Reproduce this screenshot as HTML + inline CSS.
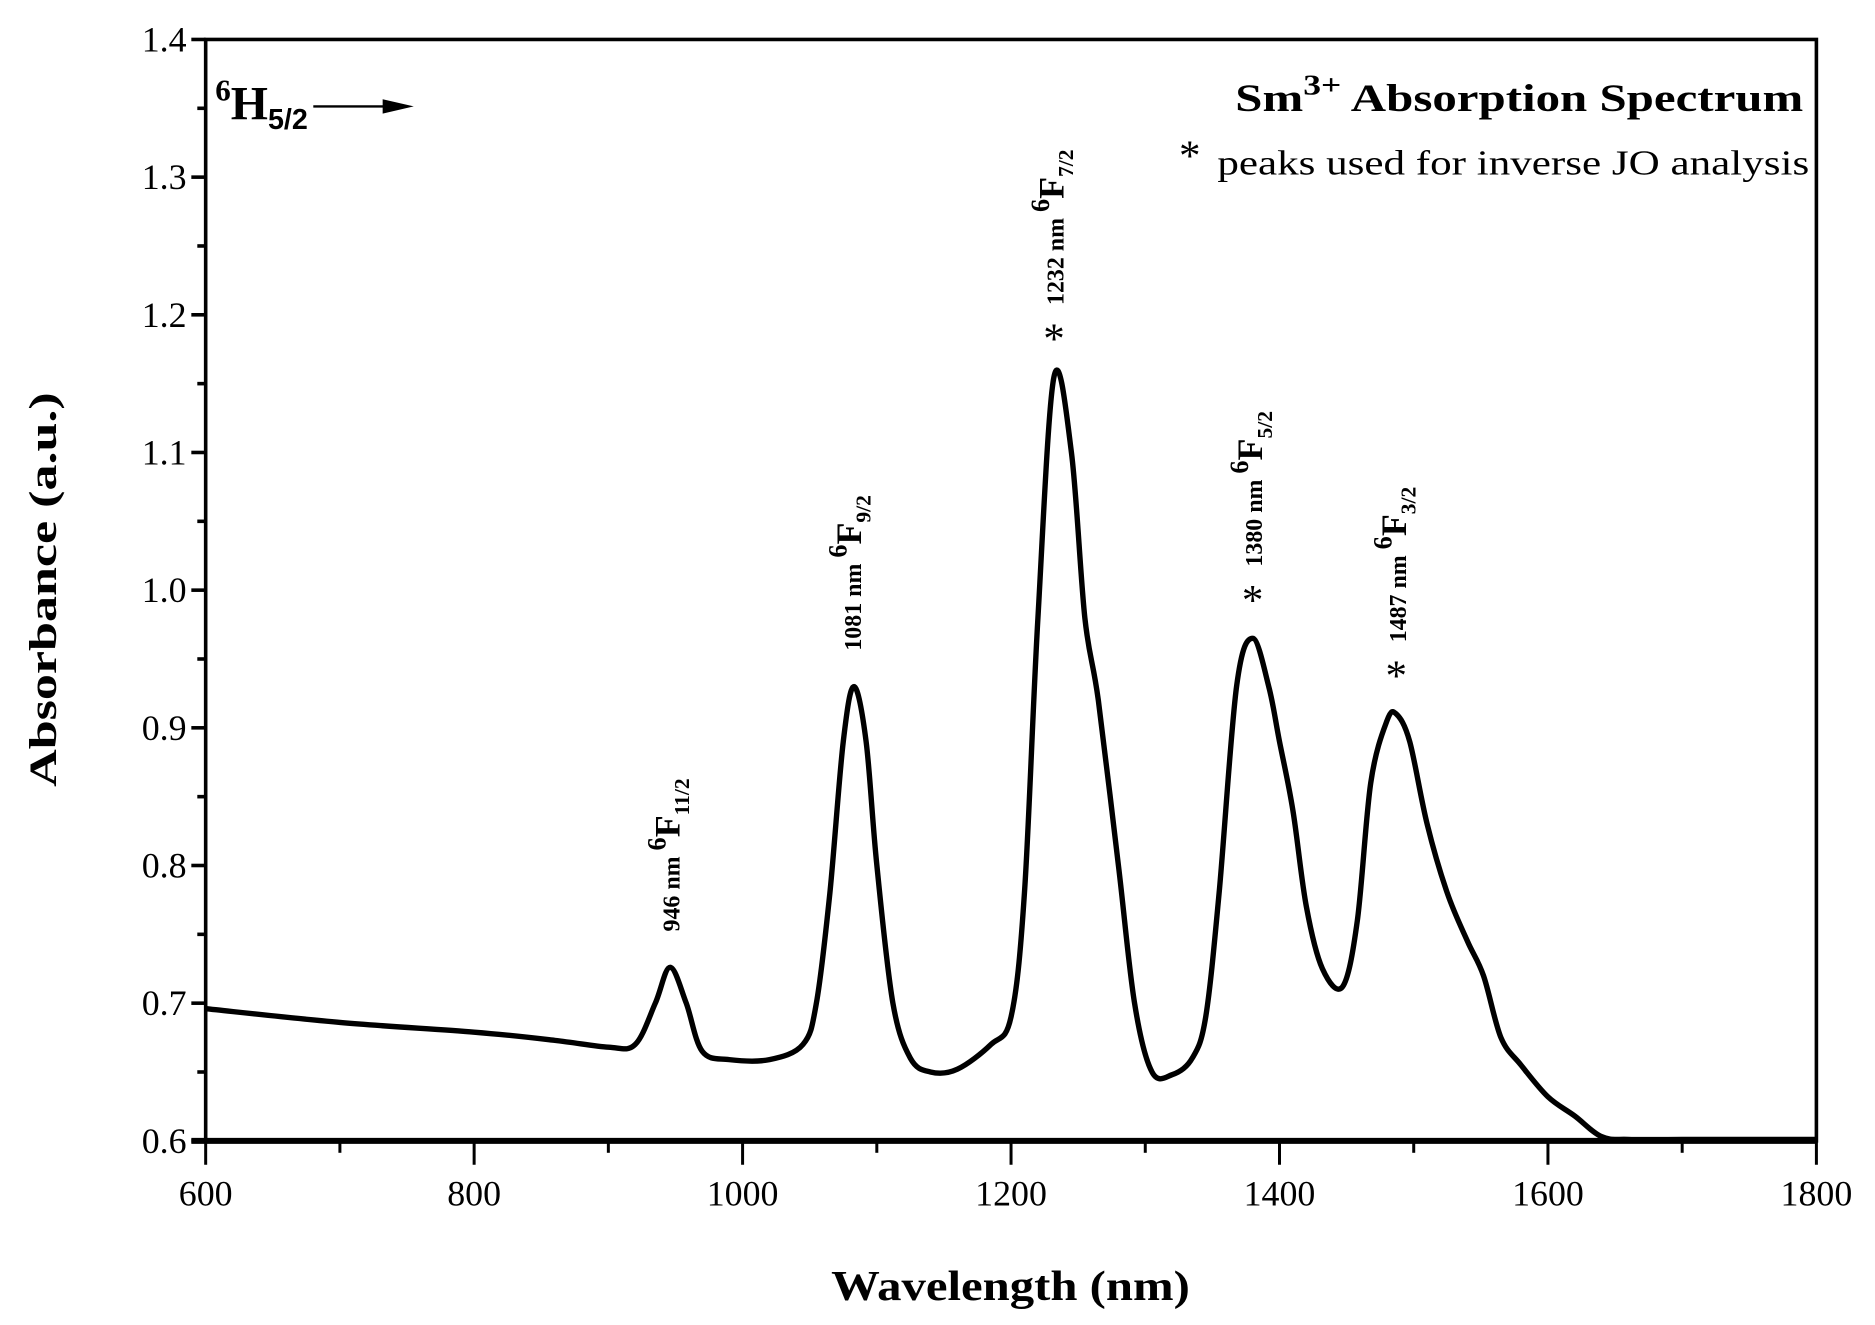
<!DOCTYPE html>
<html><head><meta charset="utf-8"><style>
html,body{margin:0;padding:0;background:#fff;}
svg{display:block;font-family:"Liberation Serif",serif;}
</style></head><body>
<svg id="chart" width="1875" height="1325" viewBox="0 0 1568 1108" preserveAspectRatio="none" xmlns="http://www.w3.org/2000/svg">
<g id="axes"></g>
<path id="series" fill="none" stroke="#000" stroke-width="4.5" stroke-linejoin="round"/>
<g id="labels">
  <text transform="translate(47,493) rotate(-90)" text-anchor="middle" font-size="33" font-weight="bold" textLength="330" lengthAdjust="spacingAndGlyphs">Absorbance (a.u.)</text>
  <text x="845" y="1087" text-anchor="middle" font-size="35" font-weight="bold" textLength="300" lengthAdjust="spacingAndGlyphs">Wavelength (nm)</text>
  <text x="1508" y="93" text-anchor="end" font-size="33" font-weight="bold" textLength="475" lengthAdjust="spacingAndGlyphs">Sm<tspan dy="-14" font-size="24">3+</tspan><tspan dy="14"> Absorption Spectrum</tspan></text>
  <text x="995" y="142" text-anchor="middle" font-size="36">*</text>
  <text x="1513" y="146" text-anchor="end" font-size="29" textLength="495" lengthAdjust="spacingAndGlyphs">peaks used for inverse JO analysis</text>
  <text x="180" y="100" font-size="40" font-weight="bold"><tspan font-size="26" dy="-16">6</tspan><tspan dy="16">H</tspan><tspan font-family="Liberation Sans" font-size="24" dy="8">5/2</tspan></text>
  <line x1="262" y1="89" x2="325" y2="89" stroke="#000" stroke-width="2"/>
  <polygon points="320,83 346,89 320,95" fill="#000"/>
</g>
<g id="peaks"></g>
</svg>
<script>
const xTicks=[600,800,1000,1200,1400,1600,1800];
const yTicks=[0.6,0.7,0.8,0.9,1.0,1.1,1.2,1.3,1.4];
const wavelength=[600,700,800,860,900,920,935,946,958,970,990,1020,1045,1055,1065,1075,1083,1092,1100,1112,1125,1140,1160,1185,1200,1210,1220,1232,1245,1255,1265,1280,1292,1305,1320,1335,1345,1355,1368,1380,1392,1400,1410,1420,1432,1447,1458,1468,1480,1487,1497,1510,1525,1540,1552,1565,1580,1600,1620,1640,1660,1700,1750,1800];
const absorbance=[0.696,0.686,0.679,0.673,0.668,0.670,0.700,0.726,0.700,0.665,0.659,0.659,0.670,0.700,0.780,0.890,0.930,0.890,0.800,0.700,0.660,0.650,0.652,0.670,0.690,0.780,0.980,1.155,1.100,0.980,0.920,0.800,0.700,0.650,0.648,0.660,0.690,0.780,0.930,0.965,0.930,0.890,0.840,0.770,0.725,0.712,0.760,0.860,0.905,0.910,0.890,0.830,0.780,0.745,0.720,0.675,0.655,0.632,0.618,0.603,0.601,0.601,0.601,0.601];
const peakNm=[946,1081,1232,1380,1487];
const peakLevel=["11/2","9/2","7/2","5/2","3/2"];
const peakAbs=[0.726,0.930,1.155,0.965,0.910];
const peakStar=[false,false,true,true,true];

const X0=172,X1=1519,Y0=954,Y1=33;
const sx=v=>X0+(v-600)/(1800-600)*(X1-X0);
const sy=v=>Y0-(v-0.6)/(1.4-0.6)*(Y0-Y1);
const NS="http://www.w3.org/2000/svg";
function mk(tag,attrs,parent){const e=document.createElementNS(NS,tag);for(const k in attrs)e.setAttribute(k,attrs[k]);parent.appendChild(e);return e;}
const ax=document.getElementById('axes');
let f=mk('rect',{x:X0,y:Y1,width:X1-X0,height:Y0-Y1,fill:'none',stroke:'#000','stroke-width':3},ax);


let bl=mk('line',{x1:X0-12,y1:Y0,x2:X1,y2:Y0,stroke:'#000','stroke-width':5},ax);


xTicks.forEach((v,i)=>{
  const x=sx(v);
  let t=mk('line',{x1:x,y1:Y0,x2:x,y2:Y0+20,stroke:'#000','stroke-width':2.5},ax);
  
  
  if(i<xTicks.length-1){let m=mk('line',{x1:sx(v+100),y1:Y0,x2:sx(v+100),y2:Y0+10,stroke:'#000','stroke-width':2.5},ax);
  
  }
  let l=mk('text',{x:x,y:1008,'text-anchor':'middle','font-size':30},ax);l.textContent=v;
  
  
});
yTicks.forEach((v,i)=>{
  const y=sy(v);
  let t=mk('line',{x1:X0-12,y1:y,x2:X0,y2:y,stroke:'#000','stroke-width':3},ax);
  
  
  if(i<yTicks.length-1){let m=mk('line',{x1:X0-7,y1:sy(v+0.05),x2:X0,y2:sy(v+0.05),stroke:'#000','stroke-width':3},ax);
  
  }
  let l=mk('text',{x:X0-16,y:y+10,'text-anchor':'end','font-size':30},ax);l.textContent=v.toFixed(1);
  
  
});
// smooth Catmull-Rom path through data points
const P=wavelength.map((w,i)=>[sx(w),sy(absorbance[i])]);
let d='M'+P[0][0].toFixed(1)+','+P[0][1].toFixed(1);
for(let i=0;i<P.length-1;i++){
  const p0=P[Math.max(0,i-1)],p1=P[i],p2=P[i+1],p3=P[Math.min(P.length-1,i+2)];
  const c1=[p1[0]+(p2[0]-p0[0])/6,p1[1]+(p2[1]-p0[1])/6];
  const c2=[p2[0]-(p3[0]-p1[0])/6,p2[1]-(p3[1]-p1[1])/6];
  d+=`C${c1[0].toFixed(1)},${c1[1].toFixed(1)} ${c2[0].toFixed(1)},${c2[1].toFixed(1)} ${p2[0].toFixed(1)},${p2[1].toFixed(1)}`;
}
document.getElementById('series').setAttribute('d',d);
const pk=document.getElementById('peaks');
peakNm.forEach((nm,i)=>{
  const x=sx(nm)+8, yb=sy(peakAbs[i])-(peakStar[i]?60:30);
  const t=mk('text',{transform:`translate(${x},${yb}) rotate(-90)`,'font-size':20,'font-weight':'bold'},pk);
  
  
  t.innerHTML=`${nm} nm <tspan font-size="22" dy="-12">6</tspan><tspan font-size="30" dy="12">F</tspan><tspan font-size="18" dy="8">${peakLevel[i]}</tspan>`;
  if(peakStar[i]){
    const s=mk('text',{x:sx(nm),y:sy(peakAbs[i])-20,'text-anchor':'middle','font-size':36},pk);
    s.textContent='*';
    
    
  }
});
</script>
</body></html>
